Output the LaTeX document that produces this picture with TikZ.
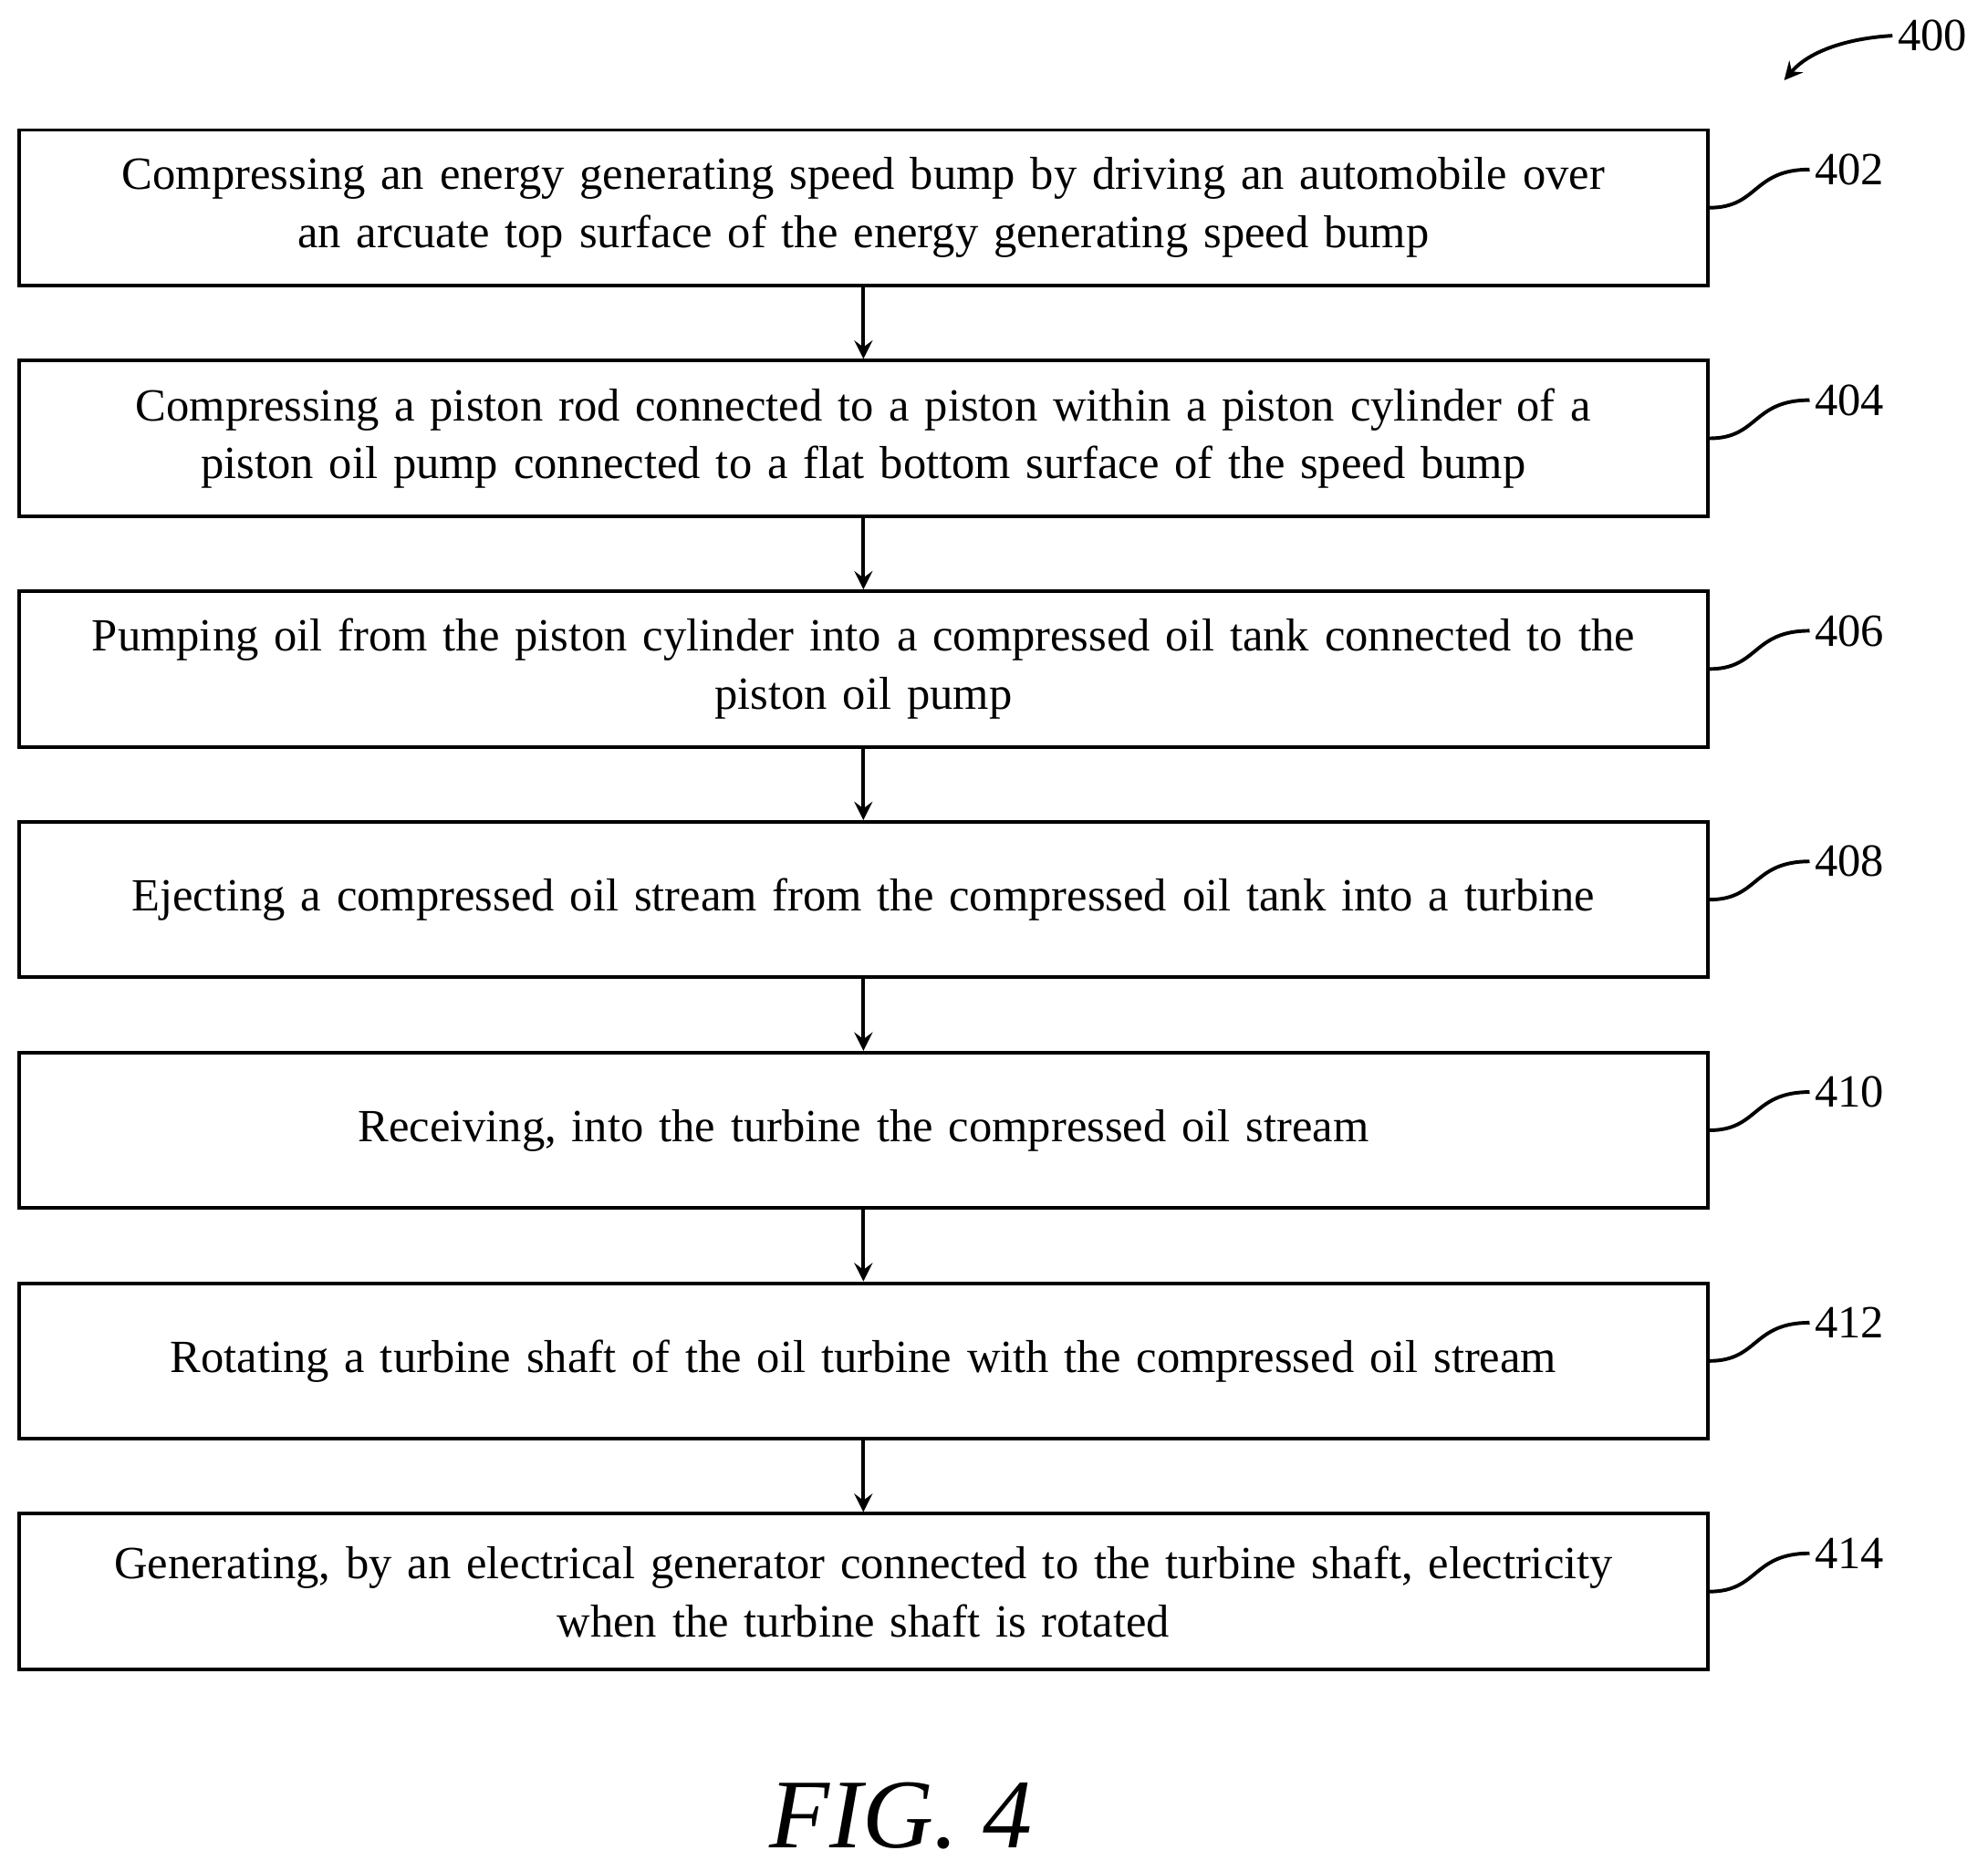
\documentclass[tikz,border=0pt]{standalone}
\usepackage{fontspec}
\setmainfont{Liberation Serif}
\tikzset{
  stepbox/.style={draw, thick, minimum width=13.25cm, minimum height=1.22cm, text width=13.1cm, align=center, font=\fontsize{10.3}{13}\selectfont, inner sep=0pt},
  ref/.style={font=\fontsize{10.3}{13}\selectfont, anchor=west, inner sep=1pt},
  flow/.style={->, thick, >=stealth}
}
\begin{document}
\begin{tikzpicture}
        \useasboundingbox (0,0) rectangle (15.6,-14.6);
        %steps
        \node[stepbox] (s402) at (6.775,-1.63) {Compressing an energy generating speed bump by driving an automobile over\\ an arcuate top surface of the energy generating speed bump};
        \node[stepbox] (s404) at (6.775,-3.44) {Compressing a piston rod connected to a piston within a piston cylinder of a\\ piston oil pump connected to a flat bottom surface of the speed bump};
        \node[stepbox] (s406) at (6.775,-5.25) {Pumping oil from the piston cylinder into a compressed oil tank connected to the\\ piston oil pump};
        \node[stepbox] (s408) at (6.775,-7.06) {Ejecting a compressed oil stream from the compressed oil tank into a turbine};
        \node[stepbox] (s410) at (6.775,-8.87) {Receiving, into the turbine the compressed oil stream};
        \node[stepbox] (s412) at (6.775,-10.68) {Rotating a turbine shaft of the oil turbine with the compressed oil stream};
        \node[stepbox] (s414) at (6.775,-12.49) {Generating, by an electrical generator connected to the turbine shaft, electricity\\ when the turbine shaft is rotated};
        %arrows
        \draw[flow] (s402) -- (s404);
        \draw[flow] (s404) -- (s406);
        \draw[flow] (s406) -- (s408);
        \draw[flow] (s408) -- (s410);
        \draw[flow] (s410) -- (s412);
        \draw[flow] (s412) -- (s414);
        %reference numerals
        \node[ref] (r402) at (14.2,-1.33) {402};
        \draw[thick] (s402.east) .. controls (13.8,-1.63) and (13.75,-1.33) .. (r402.west);
        \node[ref] (r404) at (14.2,-3.14) {404};
        \draw[thick] (s404.east) .. controls (13.8,-3.44) and (13.75,-3.14) .. (r404.west);
        \node[ref] (r406) at (14.2,-4.95) {406};
        \draw[thick] (s406.east) .. controls (13.8,-5.25) and (13.75,-4.95) .. (r406.west);
        \node[ref] (r408) at (14.2,-6.76) {408};
        \draw[thick] (s408.east) .. controls (13.8,-7.06) and (13.75,-6.76) .. (r408.west);
        \node[ref] (r410) at (14.2,-8.57) {410};
        \draw[thick] (s410.east) .. controls (13.8,-8.87) and (13.75,-8.57) .. (r410.west);
        \node[ref] (r412) at (14.2,-10.38) {412};
        \draw[thick] (s412.east) .. controls (13.8,-10.68) and (13.75,-10.38) .. (r412.west);
        \node[ref] (r414) at (14.2,-12.19) {414};
        \draw[thick] (s414.east) .. controls (13.8,-12.49) and (13.75,-12.19) .. (r414.west);
        %figure number
        \node[ref] (r400) at (14.85,-0.28) {400};
        \coordinate (p400) at (14.0,-0.63);
        \draw[flow] (r400.west) .. controls (14.5,-0.3) and (14.2,-0.4) .. (p400);
        \node[font=\fontsize{22}{26}\selectfont\itshape] (fig) at (7.07,-14.25) {FIG. 4};
\end{tikzpicture}
\end{document}
